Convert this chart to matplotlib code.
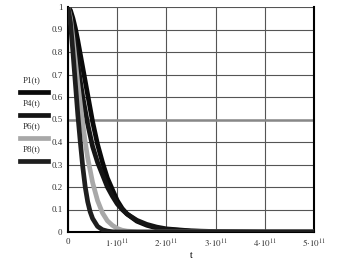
import matplotlib
matplotlib.use('Agg')
import matplotlib.pyplot as plt
from matplotlib.lines import Line2D
import numpy as np

plt.rcParams['font.family'] = 'Liberation Serif'
plt.rcParams['mathtext.fontset'] = 'stix'

# time axis in units of 1e11
t_p1 = [0, 0.05, 0.1, 0.15, 0.2, 0.25, 0.3, 0.4, 0.5, 0.6, 0.7, 0.8, 0.9,
        1.0, 1.1, 1.2, 1.4, 1.6, 1.8, 2.0, 2.5, 3.0, 4.0, 5.0]
p1 = [1.0, 0.985, 0.95, 0.905, 0.85, 0.79, 0.73, 0.61, 0.49, 0.39, 0.31, 0.24,
      0.19, 0.14, 0.105, 0.08, 0.048, 0.03, 0.018, 0.011, 0.004, 0.001, 0.0, 0.0]

t_p4 = [0, 0.05, 0.1, 0.15, 0.2, 0.25, 0.3, 0.4, 0.5, 0.6, 0.7, 0.8, 0.9,
        1.0, 1.1, 1.2, 1.4, 1.6, 1.8, 2.0, 2.5, 3.0, 4.0, 5.0]
p4 = [1.0, 0.96, 0.9, 0.83, 0.75, 0.67, 0.6, 0.48, 0.38, 0.31, 0.255, 0.2,
      0.16, 0.125, 0.1, 0.08, 0.052, 0.034, 0.022, 0.014, 0.005, 0.002, 0.0, 0.0]

t_p6 = [0, 0.05, 0.1, 0.15, 0.2, 0.25, 0.3, 0.35, 0.4, 0.5, 0.6, 0.7, 0.8,
        0.9, 1.0, 1.1, 1.2, 1.4, 1.6, 5.0]
p6 = [1.0, 0.95, 0.86, 0.76, 0.66, 0.57, 0.48, 0.4, 0.33, 0.22, 0.14, 0.085,
      0.05, 0.03, 0.016, 0.008, 0.004, 0.001, 0.0, 0.0]

t_p8 = [0, 0.05, 0.1, 0.15, 0.2, 0.25, 0.3, 0.35, 0.4, 0.45, 0.5, 0.6, 0.7,
        0.8, 0.9, 1.0, 5.0]
p8 = [1.0, 0.93, 0.8, 0.66, 0.52, 0.4, 0.29, 0.2, 0.135, 0.09, 0.06, 0.025,
      0.01, 0.004, 0.001, 0.0, 0.0]

labels = ['P1(t)', 'P4(t)', 'P6(t)', 'P8(t)']
colors = ['#0a0a0a', '#141414', '#a8a8a8', '#1e1e1e']

x_ticks = [0, 1, 2, 3, 4, 5]
x_ticklabels = ['0', r'$1{\cdot}10^{11}$', r'$2{\cdot}10^{11}$',
                r'$3{\cdot}10^{11}$', r'$4{\cdot}10^{11}$', r'$5{\cdot}10^{11}$']
y_ticks = [0, 0.1, 0.2, 0.3, 0.4, 0.5, 0.6, 0.7, 0.8, 0.9, 1]
y_ticklabels = ['0', '0.1', '0.2', '0.3', '0.4', '0.5', '0.6', '0.7', '0.8', '0.9', '1']

fig = plt.figure(figsize=(3.47, 2.69), dpi=100)
ax = fig.add_axes([68 / 347, 37 / 269, 246 / 347, 225 / 269])

series = [(t_p1, p1), (t_p4, p4), (t_p6, p6), (t_p8, p8)]
for (t, p), c in zip(series, colors):
    ax.plot(np.array(t) * 1e11, p, '-', color=c, linewidth=3.4,
            solid_capstyle='butt', zorder=3)

ax.set_xlim(0, 5e11)
ax.set_ylim(0, 1)
ax.set_xticks(np.array(x_ticks) * 1e11)
ax.set_xticklabels(x_ticklabels, fontsize=6.5)
ax.set_yticks(y_ticks)
ax.set_yticklabels(y_ticklabels, fontsize=6.5)
ax.tick_params(length=0, pad=4, colors='#333333')
ax.grid(True, color='#555555', linewidth=0.8)
ax.axhline(0.5, color='#888888', linewidth=1.8, zorder=2)

for side in ['left', 'bottom', 'right']:
    ax.spines[side].set_linewidth(1.5)
    ax.spines[side].set_color('black')
ax.spines['top'].set_visible(False)

ax.set_xlabel('t', fontsize=7, labelpad=1)

# legend on the left: label above a line sample
leg_y = [80, 103, 126, 149]
for lab, c, yy in zip(labels, colors, leg_y):
    fig.text(32 / 347, 1 - yy / 269, lab, fontsize=6.5, ha='center',
             va='center', color='#333333')
    fig.add_artist(Line2D([20 / 347, 48 / 347],
                          [1 - (yy + 12) / 269, 1 - (yy + 12) / 269],
                          transform=fig.transFigure, color=c, linewidth=3.4))

fig.savefig('out.png', dpi=100)
